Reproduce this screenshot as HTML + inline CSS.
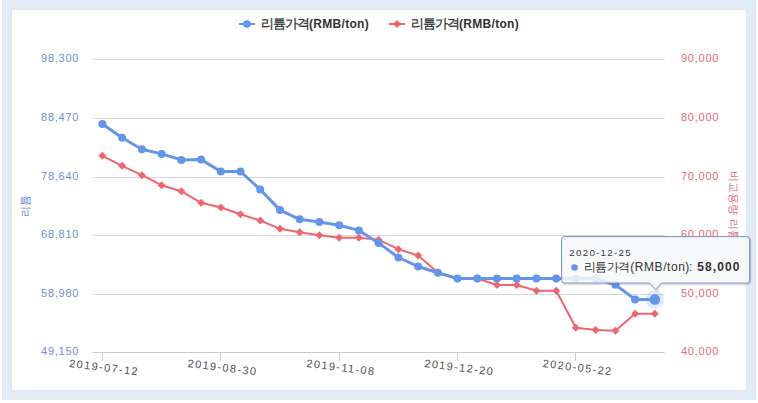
<!DOCTYPE html>
<html><head><meta charset="utf-8"><style>
html,body{margin:0;padding:0;background:#fff;}
body{width:758px;height:403px;position:relative;overflow:hidden;font-family:"Liberation Sans",sans-serif;}
.frame{position:absolute;left:2px;top:0;width:754px;height:400px;background:#e2ecf7;box-shadow:inset 1px 0 0 #dfe4ec, inset -1px 0 0 #dfe4ec, inset 0 -1px 0 #e6e9ee;}
.panel{position:absolute;left:12px;top:10px;width:734px;height:380px;background:#fff;box-shadow:0 0 0 1px #e0e6ee;}
svg{position:absolute;left:0;top:0;}
text{font-family:"Liberation Sans",sans-serif;}
.yl{font-size:11px;fill:#6e8ed0;letter-spacing:0.75px;}
.yr{font-size:11px;fill:#e06c72;letter-spacing:0.75px;}
.xl{font-size:11px;fill:#555;letter-spacing:1.4px;}
.leg{font-size:12px;font-weight:bold;fill:#333;}
.th{font-size:9.8px;fill:#3a3a3a;letter-spacing:1.25px;}
.tb{font-size:12px;fill:#333;letter-spacing:0.2px;}
.tv{font-size:12px;font-weight:bold;fill:#333;letter-spacing:1.1px;}
</style></head><body>
<div class="frame"></div>
<div class="panel"></div>
<svg width="758" height="403" viewBox="0 0 758 403">
<path d="M92.5 59.5 L664.7 59.5" stroke="#d8d8d8" stroke-width="1"/>
<path d="M92.5 118.5 L664.7 118.5" stroke="#d8d8d8" stroke-width="1"/>
<path d="M92.5 177.5 L664.7 177.5" stroke="#d8d8d8" stroke-width="1"/>
<path d="M92.5 235.5 L664.7 235.5" stroke="#d8d8d8" stroke-width="1"/>
<path d="M92.5 294.5 L664.7 294.5" stroke="#d8d8d8" stroke-width="1"/>
<path d="M92.5 352.5 L664.7 352.5" stroke="#c5cad3" stroke-width="1"/>
<path d="M102.5 352.5 L102.5 361.0" stroke="#c5cad3" stroke-width="1"/>
<path d="M220.5 352.5 L220.5 361.0" stroke="#c5cad3" stroke-width="1"/>
<path d="M339.5 352.5 L339.5 361.0" stroke="#c5cad3" stroke-width="1"/>
<path d="M457.5 352.5 L457.5 361.0" stroke="#c5cad3" stroke-width="1"/>
<path d="M575.5 352.5 L575.5 361.0" stroke="#c5cad3" stroke-width="1"/>
<path d="M102.4 155.8 L122.1 165.8 L141.9 175.2 L161.6 185.2 L181.3 191.2 L201.1 202.8 L220.8 207.5 L240.5 214.3 L260.2 220.5 L280.0 228.8 L299.7 232.2 L319.4 235.2 L339.2 237.8 L358.9 237.8 L378.6 239.8 L398.4 249.2 L418.1 255.4 L437.8 272.6 L457.5 278.5 L477.3 278.5 L497.0 285.0 L516.7 285.0 L536.5 290.8 L556.2 290.8 L575.9 327.7 L595.6 330.0 L615.4 330.8 L635.1 313.8 L654.8 313.8" fill="none" stroke="#EF6670" stroke-width="2" stroke-linejoin="round" stroke-linecap="round"/>
<path d="M102.4 151.8 L106.4 155.8 L102.4 159.8 L98.4 155.8 Z" fill="#EF6670"/>
<path d="M122.1 161.8 L126.1 165.8 L122.1 169.8 L118.1 165.8 Z" fill="#EF6670"/>
<path d="M141.9 171.2 L145.9 175.2 L141.9 179.2 L137.9 175.2 Z" fill="#EF6670"/>
<path d="M161.6 181.2 L165.6 185.2 L161.6 189.2 L157.6 185.2 Z" fill="#EF6670"/>
<path d="M181.3 187.2 L185.3 191.2 L181.3 195.2 L177.3 191.2 Z" fill="#EF6670"/>
<path d="M201.1 198.8 L205.1 202.8 L201.1 206.8 L197.1 202.8 Z" fill="#EF6670"/>
<path d="M220.8 203.5 L224.8 207.5 L220.8 211.5 L216.8 207.5 Z" fill="#EF6670"/>
<path d="M240.5 210.3 L244.5 214.3 L240.5 218.3 L236.5 214.3 Z" fill="#EF6670"/>
<path d="M260.2 216.5 L264.2 220.5 L260.2 224.5 L256.2 220.5 Z" fill="#EF6670"/>
<path d="M280.0 224.8 L284.0 228.8 L280.0 232.8 L276.0 228.8 Z" fill="#EF6670"/>
<path d="M299.7 228.2 L303.7 232.2 L299.7 236.2 L295.7 232.2 Z" fill="#EF6670"/>
<path d="M319.4 231.2 L323.4 235.2 L319.4 239.2 L315.4 235.2 Z" fill="#EF6670"/>
<path d="M339.2 233.8 L343.2 237.8 L339.2 241.8 L335.2 237.8 Z" fill="#EF6670"/>
<path d="M358.9 233.8 L362.9 237.8 L358.9 241.8 L354.9 237.8 Z" fill="#EF6670"/>
<path d="M378.6 235.8 L382.6 239.8 L378.6 243.8 L374.6 239.8 Z" fill="#EF6670"/>
<path d="M398.4 245.2 L402.4 249.2 L398.4 253.2 L394.4 249.2 Z" fill="#EF6670"/>
<path d="M418.1 251.4 L422.1 255.4 L418.1 259.4 L414.1 255.4 Z" fill="#EF6670"/>
<path d="M437.8 268.6 L441.8 272.6 L437.8 276.6 L433.8 272.6 Z" fill="#EF6670"/>
<path d="M457.5 274.5 L461.5 278.5 L457.5 282.5 L453.5 278.5 Z" fill="#EF6670"/>
<path d="M477.3 274.5 L481.3 278.5 L477.3 282.5 L473.3 278.5 Z" fill="#EF6670"/>
<path d="M497.0 281.0 L501.0 285.0 L497.0 289.0 L493.0 285.0 Z" fill="#EF6670"/>
<path d="M516.7 281.0 L520.7 285.0 L516.7 289.0 L512.7 285.0 Z" fill="#EF6670"/>
<path d="M536.5 286.8 L540.5 290.8 L536.5 294.8 L532.5 290.8 Z" fill="#EF6670"/>
<path d="M556.2 286.8 L560.2 290.8 L556.2 294.8 L552.2 290.8 Z" fill="#EF6670"/>
<path d="M575.9 323.7 L579.9 327.7 L575.9 331.7 L571.9 327.7 Z" fill="#EF6670"/>
<path d="M595.6 326.0 L599.6 330.0 L595.6 334.0 L591.6 330.0 Z" fill="#EF6670"/>
<path d="M615.4 326.8 L619.4 330.8 L615.4 334.8 L611.4 330.8 Z" fill="#EF6670"/>
<path d="M635.1 309.8 L639.1 313.8 L635.1 317.8 L631.1 313.8 Z" fill="#EF6670"/>
<path d="M654.8 309.8 L658.8 313.8 L654.8 317.8 L650.8 313.8 Z" fill="#EF6670"/>
<path d="M102.4 124.1 L122.1 137.8 L141.9 149.2 L161.6 153.9 L181.3 159.9 L201.1 159.6 L220.8 171.5 L240.5 171.5 L260.2 189.5 L280.0 210.1 L299.7 219.3 L319.4 221.9 L339.2 225.2 L358.9 230.4 L378.6 242.9 L398.4 257.5 L418.1 266.5 L437.8 272.7 L457.5 278.5 L477.3 278.5 L497.0 278.5 L516.7 278.6 L536.5 278.6 L556.2 278.5 L575.9 278.5 L595.6 278.5 L615.4 284.8 L635.1 299.4 L654.8 299.4" fill="none" stroke="#6495ED" stroke-width="3" stroke-linejoin="round" stroke-linecap="round"/>
<circle cx="102.4" cy="124.1" r="4" fill="#6495ED"/>
<circle cx="122.1" cy="137.8" r="4" fill="#6495ED"/>
<circle cx="141.9" cy="149.2" r="4" fill="#6495ED"/>
<circle cx="161.6" cy="153.9" r="4" fill="#6495ED"/>
<circle cx="181.3" cy="159.9" r="4" fill="#6495ED"/>
<circle cx="201.1" cy="159.6" r="4" fill="#6495ED"/>
<circle cx="220.8" cy="171.5" r="4" fill="#6495ED"/>
<circle cx="240.5" cy="171.5" r="4" fill="#6495ED"/>
<circle cx="260.2" cy="189.5" r="4" fill="#6495ED"/>
<circle cx="280.0" cy="210.1" r="4" fill="#6495ED"/>
<circle cx="299.7" cy="219.3" r="4" fill="#6495ED"/>
<circle cx="319.4" cy="221.9" r="4" fill="#6495ED"/>
<circle cx="339.2" cy="225.2" r="4" fill="#6495ED"/>
<circle cx="358.9" cy="230.4" r="4" fill="#6495ED"/>
<circle cx="378.6" cy="242.9" r="4" fill="#6495ED"/>
<circle cx="398.4" cy="257.5" r="4" fill="#6495ED"/>
<circle cx="418.1" cy="266.5" r="4" fill="#6495ED"/>
<circle cx="437.8" cy="272.7" r="4" fill="#6495ED"/>
<circle cx="457.5" cy="278.5" r="4" fill="#6495ED"/>
<circle cx="477.3" cy="278.5" r="4" fill="#6495ED"/>
<circle cx="497.0" cy="278.5" r="4" fill="#6495ED"/>
<circle cx="516.7" cy="278.6" r="4" fill="#6495ED"/>
<circle cx="536.5" cy="278.6" r="4" fill="#6495ED"/>
<circle cx="556.2" cy="278.5" r="4" fill="#6495ED"/>
<circle cx="575.9" cy="278.5" r="4" fill="#6495ED"/>
<circle cx="595.6" cy="278.5" r="4" fill="#6495ED"/>
<circle cx="615.4" cy="284.8" r="4" fill="#6495ED"/>
<circle cx="635.1" cy="299.4" r="4" fill="#6495ED"/>
<circle cx="654.8" cy="299.4" r="9.5" fill="#6495ED" fill-opacity="0.18"/>
<circle cx="654.8" cy="299.4" r="5.3" fill="#6495ED"/>
<text x="79.2" y="62.1" text-anchor="end" class="yl">98,300</text>
<text x="79.2" y="121.1" text-anchor="end" class="yl">88,470</text>
<text x="79.2" y="180.1" text-anchor="end" class="yl">78,640</text>
<text x="79.2" y="238.1" text-anchor="end" class="yl">68,810</text>
<text x="79.2" y="297.1" text-anchor="end" class="yl">58,980</text>
<text x="79.2" y="355.1" text-anchor="end" class="yl">49,150</text>
<text x="681" y="62.1" class="yr">90,000</text>
<text x="681" y="121.1" class="yr">80,000</text>
<text x="681" y="180.1" class="yr">70,000</text>
<text x="681" y="238.1" class="yr">60,000</text>
<text x="681" y="297.1" class="yr">50,000</text>
<text x="681" y="355.1" class="yr">40,000</text>
<text x="104.2" y="371" text-anchor="middle" transform="rotate(7 102.4 367)" class="xl">2019-07-12</text>
<text x="222.60000000000002" y="371" text-anchor="middle" transform="rotate(7 220.8 367)" class="xl">2019-08-30</text>
<text x="341.0" y="371" text-anchor="middle" transform="rotate(7 339.2 367)" class="xl">2019-11-08</text>
<text x="459.3" y="371" text-anchor="middle" transform="rotate(7 457.5 367)" class="xl">2019-12-20</text>
<text x="577.6999999999999" y="371" text-anchor="middle" transform="rotate(7 575.9 367)" class="xl">2020-05-22</text>
<path d="M239 24 L255 24" stroke="#6495ED" stroke-width="2"/>
<circle cx="247" cy="24" r="3.8" fill="#6495ED"/>
<text x="261" y="27.6" class="leg"><tspan style="font-weight:normal;stroke:#333;stroke-width:0.3px;font-size:12.5px;letter-spacing:-0.9px">리튬가격</tspan><tspan x="309" style="letter-spacing:0.3px">(RMB/ton)</tspan></text>
<path d="M389 24 L405 24" stroke="#EF6670" stroke-width="2"/>
<path d="M397 20 L401 24 L397 28 L393 24 Z" fill="#EF6670"/>
<text x="411" y="27.6" class="leg"><tspan style="font-weight:normal;stroke:#333;stroke-width:0.3px;font-size:12.5px;letter-spacing:-0.9px">리튬가격</tspan><tspan x="459" style="letter-spacing:0.3px">(RMB/ton)</tspan></text>
<text transform="translate(28.7 206) rotate(-90)" text-anchor="middle" class="yl" style="letter-spacing:0">리튬</text>
<text transform="translate(729.5 206) rotate(90)" text-anchor="middle" class="yr" style="letter-spacing:0">비교용량 리튬</text>
<path d="M564.5 236.5 L746.5 236.5 Q749.5 236.5 749.5 239.5 L749.5 280 Q749.5 283 746.5 283 L661.5 283 L655.5 289.5 L649.5 283 L564.5 283 Q561.5 283 561.5 280 L561.5 239.5 Q561.5 236.5 564.5 236.5 Z" transform="translate(1 1)" fill="none" stroke="#000" stroke-opacity="0.06" stroke-width="3"/>
<path d="M564.5 236.5 L746.5 236.5 Q749.5 236.5 749.5 239.5 L749.5 280 Q749.5 283 746.5 283 L661.5 283 L655.5 289.5 L649.5 283 L564.5 283 Q561.5 283 561.5 280 L561.5 239.5 Q561.5 236.5 564.5 236.5 Z" transform="translate(1 1)" fill="none" stroke="#000" stroke-opacity="0.15" stroke-width="1"/>
<path d="M564.5 236.5 L746.5 236.5 Q749.5 236.5 749.5 239.5 L749.5 280 Q749.5 283 746.5 283 L661.5 283 L655.5 289.5 L649.5 283 L564.5 283 Q561.5 283 561.5 280 L561.5 239.5 Q561.5 236.5 564.5 236.5 Z" fill="#f7f8f9" fill-opacity="0.86" stroke="#7c96cc" stroke-width="1"/>
<text x="569.3" y="256" class="th">2020-12-25</text>
<circle cx="574.5" cy="267.5" r="3.3" fill="#6495ED"/>
<text y="271" class="tb"><tspan x="583.5" style="letter-spacing:-0.4px">리튬가격</tspan><tspan x="630.3" style="letter-spacing:0.55px">(RMB/ton)</tspan><tspan x="689">:</tspan><tspan x="697.3" class="tv">58,000</tspan></text>
</svg>
</body></html>
